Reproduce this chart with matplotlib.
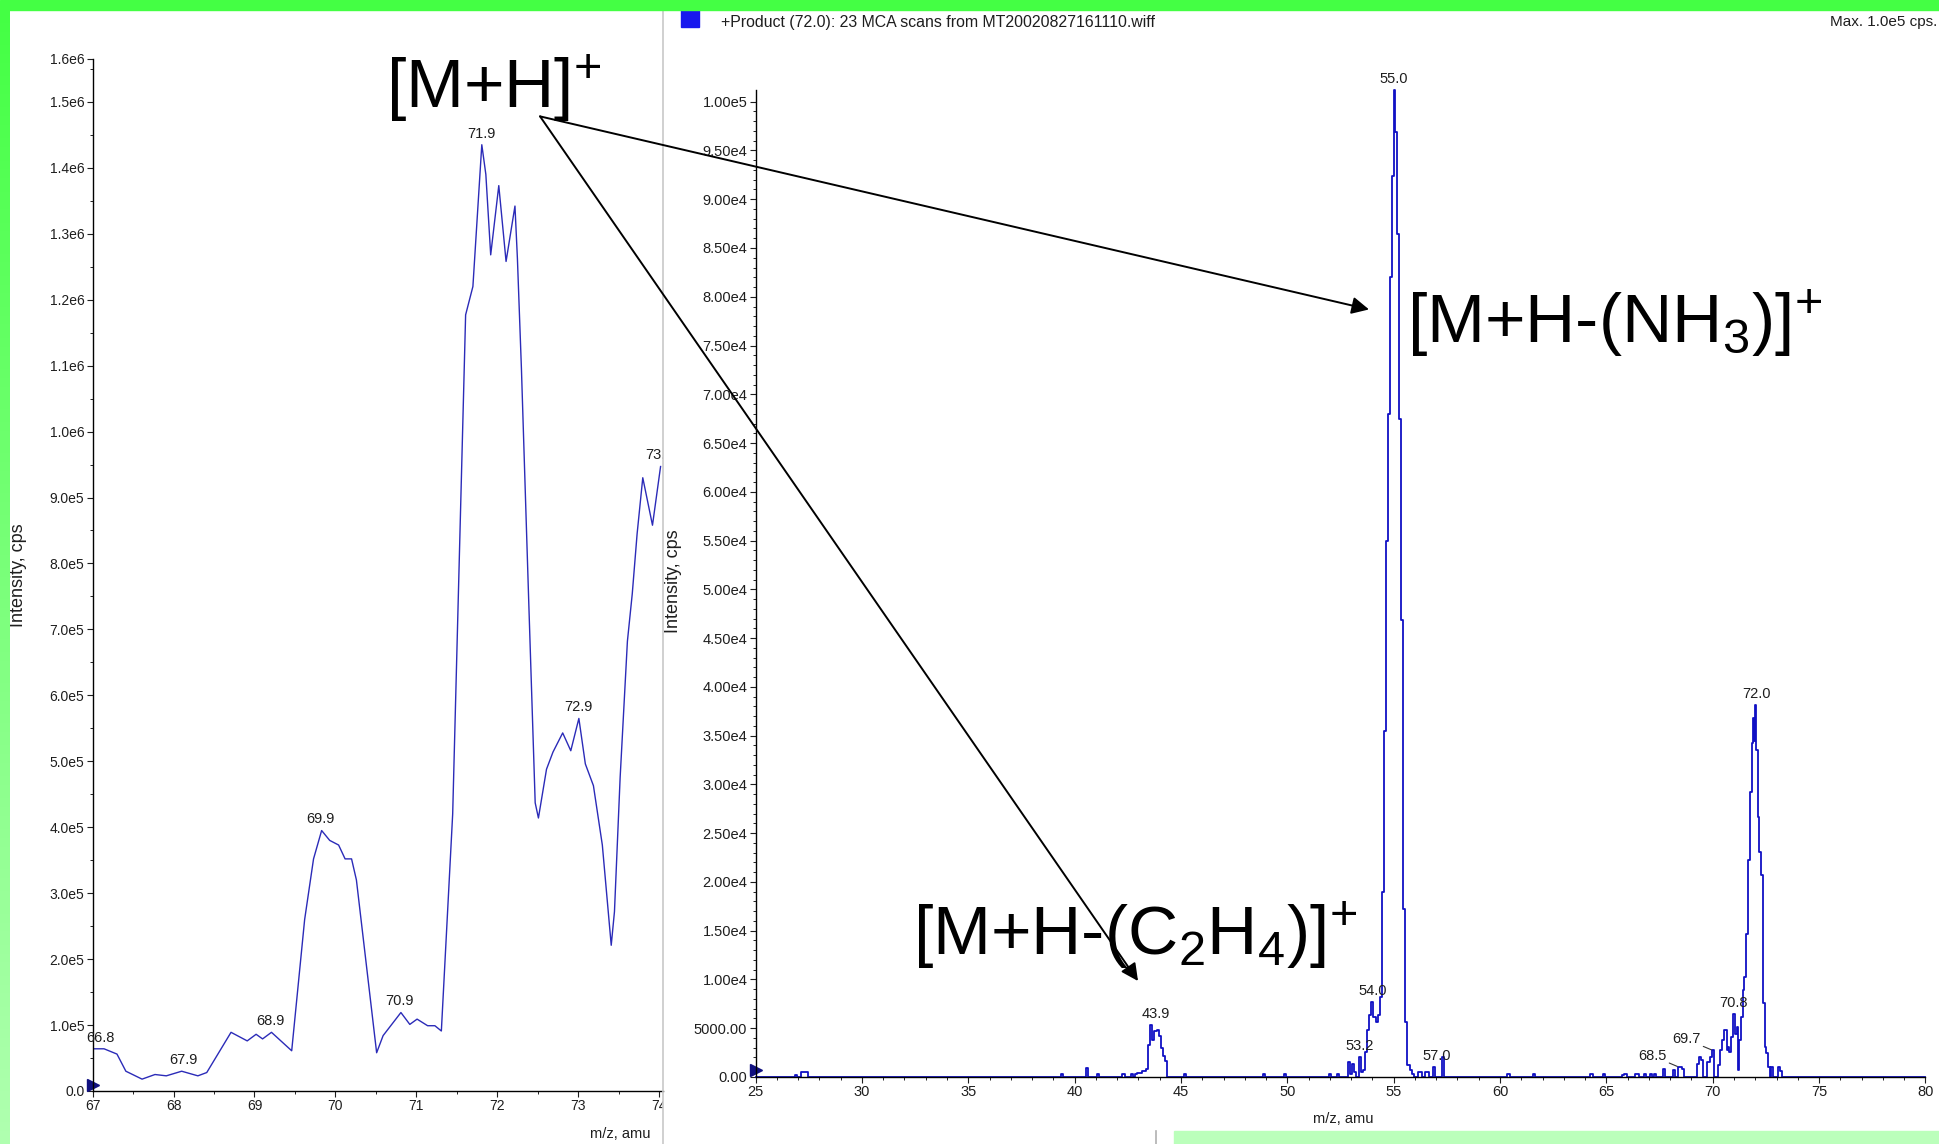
import numpy as np
import matplotlib
matplotlib.use("Agg")
import matplotlib.pyplot as plt
from matplotlib.patches import Rectangle, ConnectionPatch
from matplotlib.transforms import Bbox

plt.rcParams["font.family"] = ["Liberation Sans", "DejaVu Sans"]
plt.rcParams["mathtext.fontset"] = "custom"
plt.rcParams["mathtext.rm"] = "Liberation Sans"
plt.rcParams["mathtext.it"] = "Liberation Sans:italic"
plt.rcParams["mathtext.bf"] = "Liberation Sans:bold"

# ---- left panel: zoomed precursor scan (m/z 67-74) ----
left_mz = [67.0, 67.14, 67.30, 67.41, 67.61, 67.77, 67.91, 68.10, 68.30, 68.41,
           68.71, 68.91, 69.02, 69.10, 69.21, 69.46, 69.62, 69.73, 69.83, 69.93,
           70.04, 70.12, 70.20, 70.26, 70.51, 70.59, 70.81, 70.92, 71.01, 71.14,
           71.23, 71.31, 71.45, 71.61, 71.70, 71.81, 71.86, 71.92, 72.02,
           72.11, 72.22, 72.25, 72.30, 72.39, 72.47, 72.51, 72.61, 72.69, 72.81,
           72.91, 73.01, 73.09, 73.19, 73.30, 73.41, 73.45, 73.52, 73.61, 73.67,
           73.73, 73.80, 73.92, 74.02]
left_int = [64000, 64000, 56000, 30000, 18000, 25000, 23000, 30000, 23000, 28000,
            89000, 76000, 86000, 79000, 89000, 61000, 260000, 352000, 395000, 380000,
            373000, 352000, 352000, 320000, 58000, 84000, 119000, 101000, 109000, 99000,
            99000, 91000, 420000, 1177000, 1220000, 1435000, 1390000, 1268000, 1373000,
            1258000, 1342000, 1263000, 1095000, 743000, 437000, 414000, 488000, 514000, 543000,
            516000, 565000, 496000, 463000, 373000, 221000, 272000, 475000, 682000, 754000,
            845000, 930000, 858000, 947000]
left_peak_labels = [("66.8", 67.10), ("67.9", 68.12), ("68.9", 69.20), ("69.9", 69.81),
                    ("70.9", 70.79), ("71.9", 71.80), ("72.9", 73.01), ("73.9", 74.00)]
left_xticks = [67, 68, 69, 70, 71, 72, 73, 74]
left_yticks = [0, 1e5, 2e5, 3e5, 4e5, 5e5, 6e5, 7e5, 8e5, 9e5,
               1e6, 1.1e6, 1.2e6, 1.3e6, 1.4e6, 1.5e6, 1.565e6]
left_ylabels = ["0.0", "1.0e5", "2.0e5", "3.0e5", "4.0e5", "5.0e5", "6.0e5", "7.0e5",
                "8.0e5", "9.0e5", "1.0e6", "1.1e6", "1.2e6", "1.3e6", "1.4e6", "1.5e6", "1.6e6"]

# ---- right panel: product ion scan of m/z 72 ----
right_mz = [25.0, 26.8, 26.9, 27.0, 27.1, 27.2, 27.3, 27.4, 27.5,
            39.3, 39.4, 39.5, 40.5, 40.6, 40.7, 41.0, 41.1, 41.2, 42.2, 42.3, 42.4,
            42.6, 42.7, 42.8, 42.9, 43.0, 43.1, 43.2, 43.3, 43.4, 43.5, 43.6, 43.7,
            43.8, 43.9, 44.0, 44.1, 44.2, 44.3, 44.4,
            45.1, 45.2, 45.3, 48.8, 48.9, 49.0, 49.8, 49.9, 50.0,
            51.9, 52.0, 52.1, 52.3, 52.4, 52.5, 52.8, 52.9, 53.0, 53.1, 53.2, 53.3,
            53.4, 53.5, 53.6, 53.7, 53.8, 53.9, 54.0, 54.1, 54.2, 54.3, 54.4, 54.5,
            54.6, 54.7, 54.8, 54.9, 54.96, 55.03, 55.1, 55.2, 55.3, 55.4, 55.5, 55.6,
            55.7, 55.8, 55.9, 56.0, 56.1, 56.2, 56.3, 56.4, 56.5, 56.6, 56.7, 56.8,
            56.9, 57.0, 57.2, 57.3, 57.4,
            60.3, 60.4, 60.5, 61.5, 61.6, 61.7, 64.2, 64.3, 64.4, 64.8, 64.9, 65.0,
            65.7, 65.8, 65.9, 66.0, 66.3, 66.4, 66.5, 66.6, 66.7, 66.8, 66.9,
            67.0, 67.1, 67.2, 67.3, 67.4, 67.6, 67.7, 67.8, 68.1, 68.2, 68.3, 68.4,
            68.5, 68.6, 68.7, 69.2, 69.3, 69.4, 69.5, 69.6, 69.7, 69.8, 69.9, 70.0,
            70.1, 70.2, 70.3, 70.4, 70.5, 70.6, 70.7, 70.75, 70.8, 70.9, 71.0, 71.1,
            71.15, 71.2, 71.3, 71.4, 71.45, 71.5, 71.6, 71.7, 71.8, 71.85, 71.9, 71.95,
            72.0, 72.1, 72.15, 72.2, 72.3, 72.4, 72.5, 72.55, 72.65, 72.7, 72.8, 72.9,
            73.0, 73.1, 73.2, 73.3, 80.0]
right_int = [0, 0, 250, 0, 0, 530, 530, 530, 0,
             0, 350, 0, 0, 900, 0, 0, 350, 0, 0, 350, 0,
             0, 350, 0, 350, 400, 400, 580, 580, 820, 3300, 5360, 3830,
             4680, 4850, 4170, 2970, 2120, 1600, 0,
             0, 350, 0, 0, 350, 0, 0, 350, 0,
             0, 340, 0, 0, 300, 0, 0, 1540, 340, 1370, 500, 0,
             2050, 500, 700, 2600, 4780, 6320, 7690, 6150, 5640, 6320, 8200, 19000,
             35500, 55000, 68000, 82000, 92400, 101200, 96900, 86400, 67500, 46900, 17200, 5640,
             1200, 700, 350, 0, 0, 510, 510, 0, 510, 510, 0, 0,
             1025, 0, 0, 2050, 0,
             0, 300, 0, 0, 300, 0, 0, 350, 0, 0, 350, 0,
             0, 170, 300, 0, 0, 270, 300, 0, 0, 270, 0,
             0, 300, 0, 270, 0, 0, 850, 0, 0, 680, 0, 1025,
             1025, 850, 0, 0, 1370, 2050, 1700, 0, 0, 1540, 2050, 2730,
             0, 0, 1200, 2730, 3760, 4780, 2730, 3075, 2560, 4100, 6490, 4440,
             5125, 680, 3760, 6150, 8880, 10250, 14700, 22200, 29200, 34200, 36800, 34500,
             38100, 33500, 26700, 23100, 20700, 7550, 3100, 2430, 1060, 0, 990, 0,
             0, 990, 600, 0, 0]
right_peak_labels = [("43.9", 43.80), ("53.2", 53.40), ("54.0", 54.00), ("55.0", 55.02),
                     ("57.0", 57.00), ("70.8", 71.00), ("72.0", 72.05)]
# labels with a short leader line: (text, m/z of the peak, intensity of the peak)
right_leader_labels = [("68.5", 68.40, 1025), ("69.7", 70.00, 2730)]
right_xticks = [25, 30, 35, 40, 45, 50, 55, 60, 65, 70, 75, 80]
right_yticks = [i * 5000 for i in range(21)]
right_ylabels = ["0.00", "5000.00"] + ["%.2fe4" % (v / 1e4) for v in right_yticks[2:20]] + ["1.00e5"]

W, H = 1939, 1144
INK = "#1e1e1e"


def fig_box(x0, y0, x1, y1):
    # pixel box with top-left origin -> figure fraction rect
    return [x0 / W, 1 - y1 / H, (x1 - x0) / W, (y1 - y0) / H]


def style_axes(ax, size):
    ax.set_facecolor("none")
    for s in ["top", "right"]:
        ax.spines[s].set_visible(False)
    for s in ["left", "bottom"]:
        ax.spines[s].set_linewidth(1.0)
    ax.tick_params(which="major", direction="out", length=4, width=0.8,
                   labelsize=size, pad=2, colors=INK)
    ax.tick_params(which="minor", direction="out", length=2.2, width=0.6)


def label_peaks(ax, mz, inten, labels, width):
    mz, inten = np.asarray(mz), np.asarray(inten)
    out = []
    for txt, x in labels:
        y = inten[np.abs(mz - x) <= width].max()
        out.append(ax.annotate(txt, (x, y), xytext=(0, 3), textcoords="offset points",
                               ha="center", va="bottom", fontsize=10.5, color=INK,
                               annotation_clip=False))
    return out


fig = plt.figure(figsize=(W / 100, H / 100), dpi=100)
fig.patch.set_facecolor("white")

# left panel
ax1 = fig.add_axes(fig_box(92.7, 59, 663, 1091))
style_axes(ax1, 10)
ax1.plot(left_mz, left_int, color="#2b2bb8", lw=1.0)
ax1.set_xlim(67, 74.05)
ax1.set_ylim(0, 1.565e6)
ax1.set_xticks(left_xticks)
ax1.set_xticklabels([str(t) for t in left_xticks])
ax1.set_xticks(np.arange(67.5, 74, 1.0), minor=True)
ax1.set_yticks(left_yticks)
ax1.set_yticklabels(left_ylabels)
ax1.set_yticks(np.arange(5e4, 1.56e6, 1e5), minor=True)
ax1.plot([67.0], [9000], marker=">", ms=8, color="#101080", clip_on=False)
clip = Bbox([[0, 0], [663, H]])
left_texts = label_peaks(ax1, left_mz, left_int, left_peak_labels, 0.15)
for t in list(ax1.get_xticklabels()) + left_texts:
    t.set_clip_box(clip)
    t.set_clip_on(True)

# right panel
ax2 = fig.add_axes(fig_box(755.6, 90, 1925.4, 1077))
style_axes(ax2, 10.5)
ax2.plot(right_mz, right_int, color="#1010c4", lw=1.3, drawstyle="steps-mid", clip_on=False)
ax2.set_xlim(25, 80)
ax2.set_ylim(0, 1.012e5)
ax2.set_xticks(right_xticks)
ax2.set_xticklabels([str(t) for t in right_xticks])
ax2.set_xticks(np.arange(25, 81, 1), minor=True)
ax2.set_yticks(right_yticks)
ax2.set_yticklabels(right_ylabels)
ax2.set_yticks(np.arange(0, 1.01e5, 1000), minor=True)
ax2.plot([25.0], [700], marker=">", ms=8, color="#101080", clip_on=False)
label_peaks(ax2, right_mz, right_int, right_peak_labels, 0.25)
for txt, x, y in right_leader_labels:
    ax2.annotate(txt, (x, y), xytext=(-19, 8), textcoords="offset points",
                 ha="center", va="center", fontsize=10.5, color=INK,
                 arrowprops=dict(arrowstyle="-", lw=0.8, color="#333333",
                                 shrinkA=0, shrinkB=1))

# axis titles
fig.text(19 / W, 1 - 575 / H, "Intensity, cps", rotation=90, ha="center", va="center",
         fontsize=13, color=INK)
fig.text(674 / W, 1 - 581 / H, "Intensity, cps", rotation=90, ha="center", va="center",
         fontsize=13, color=INK)
fig.text(620 / W, 1 - 1134 / H, "m/z, amu", ha="center", va="center", fontsize=10.5,
         color=INK)
fig.text(1343 / W, 1 - 1119 / H, "m/z, amu", ha="center", va="center", fontsize=10.5,
         color=INK)
fig.text(721 / W, 1 - 22 / H, "+Product (72.0): 23 MCA scans from MT20020827161110.wiff",
         va="center", fontsize=11.4, color=INK)
fig.text(1830 / W, 1 - 22 / H, "Max. 1.0e5 cps.", va="center", fontsize=11, color=INK)
fig.patches.append(Rectangle((681 / W, 1 - 27 / H), 18 / W, 17 / H, transform=fig.transFigure,
                             color="#1818ee", zorder=3))

# fragment annotations
big = dict(fontsize=50, color="black", va="baseline", ha="left", zorder=12)
fig.text(386 / W, 1 - 108 / H, "[M+H]$^{+}$", **big)
fig.text(1407 / W, 1 - 343 / H, "[M+H-(NH$_{3}$)]$^{+}$", **big)
fig.text(913 / W, 1 - 955 / H, "[M+H-(C$_{2}$H$_{4}$)]$^{+}$", **big)
for xyB in [(53.84, 78700), (42.98, 9840)]:
    arr = ConnectionPatch(xyA=(72.53, 1.478e6), coordsA=ax1.transData,
                          xyB=xyB, coordsB=ax2.transData,
                          arrowstyle="-|>", mutation_scale=26, lw=1.4, color="black",
                          shrinkA=0, shrinkB=0, zorder=11)
    fig.add_artist(arr)

# window chrome: panel divider, green frame
fig.add_artist(plt.Line2D([663 / W, 663 / W], [0, 1], transform=fig.transFigure,
                          color="#c8c8c8", lw=1.2, zorder=2))
fig.add_artist(plt.Line2D([1156 / W, 1156 / W], [0, 13 / H], transform=fig.transFigure,
                          color="#b0b0b0", lw=1.2, zorder=2))
fig.patches.append(Rectangle((0, 1 - 10 / H), 1, 10 / H, transform=fig.transFigure,
                             color="#44ff44", zorder=20))
fig.patches.append(Rectangle((1174 / W, 0), 1 - 1174 / W, 13 / H, transform=fig.transFigure,
                             color="#bbffbb", zorder=20))
strip = fig.add_axes([0, 0, 10 / W, 1 - 10 / H], zorder=20)
grad = np.linspace(0, 1, 256)[:, None]
top, bottom = np.array([0x44, 0xff, 0x44]) / 255, np.array([0xb0, 0xff, 0xb0]) / 255
strip.imshow(top + grad[..., None] * (bottom - top), aspect="auto")
strip.axis("off")

fig.savefig("out.png", dpi=100)
